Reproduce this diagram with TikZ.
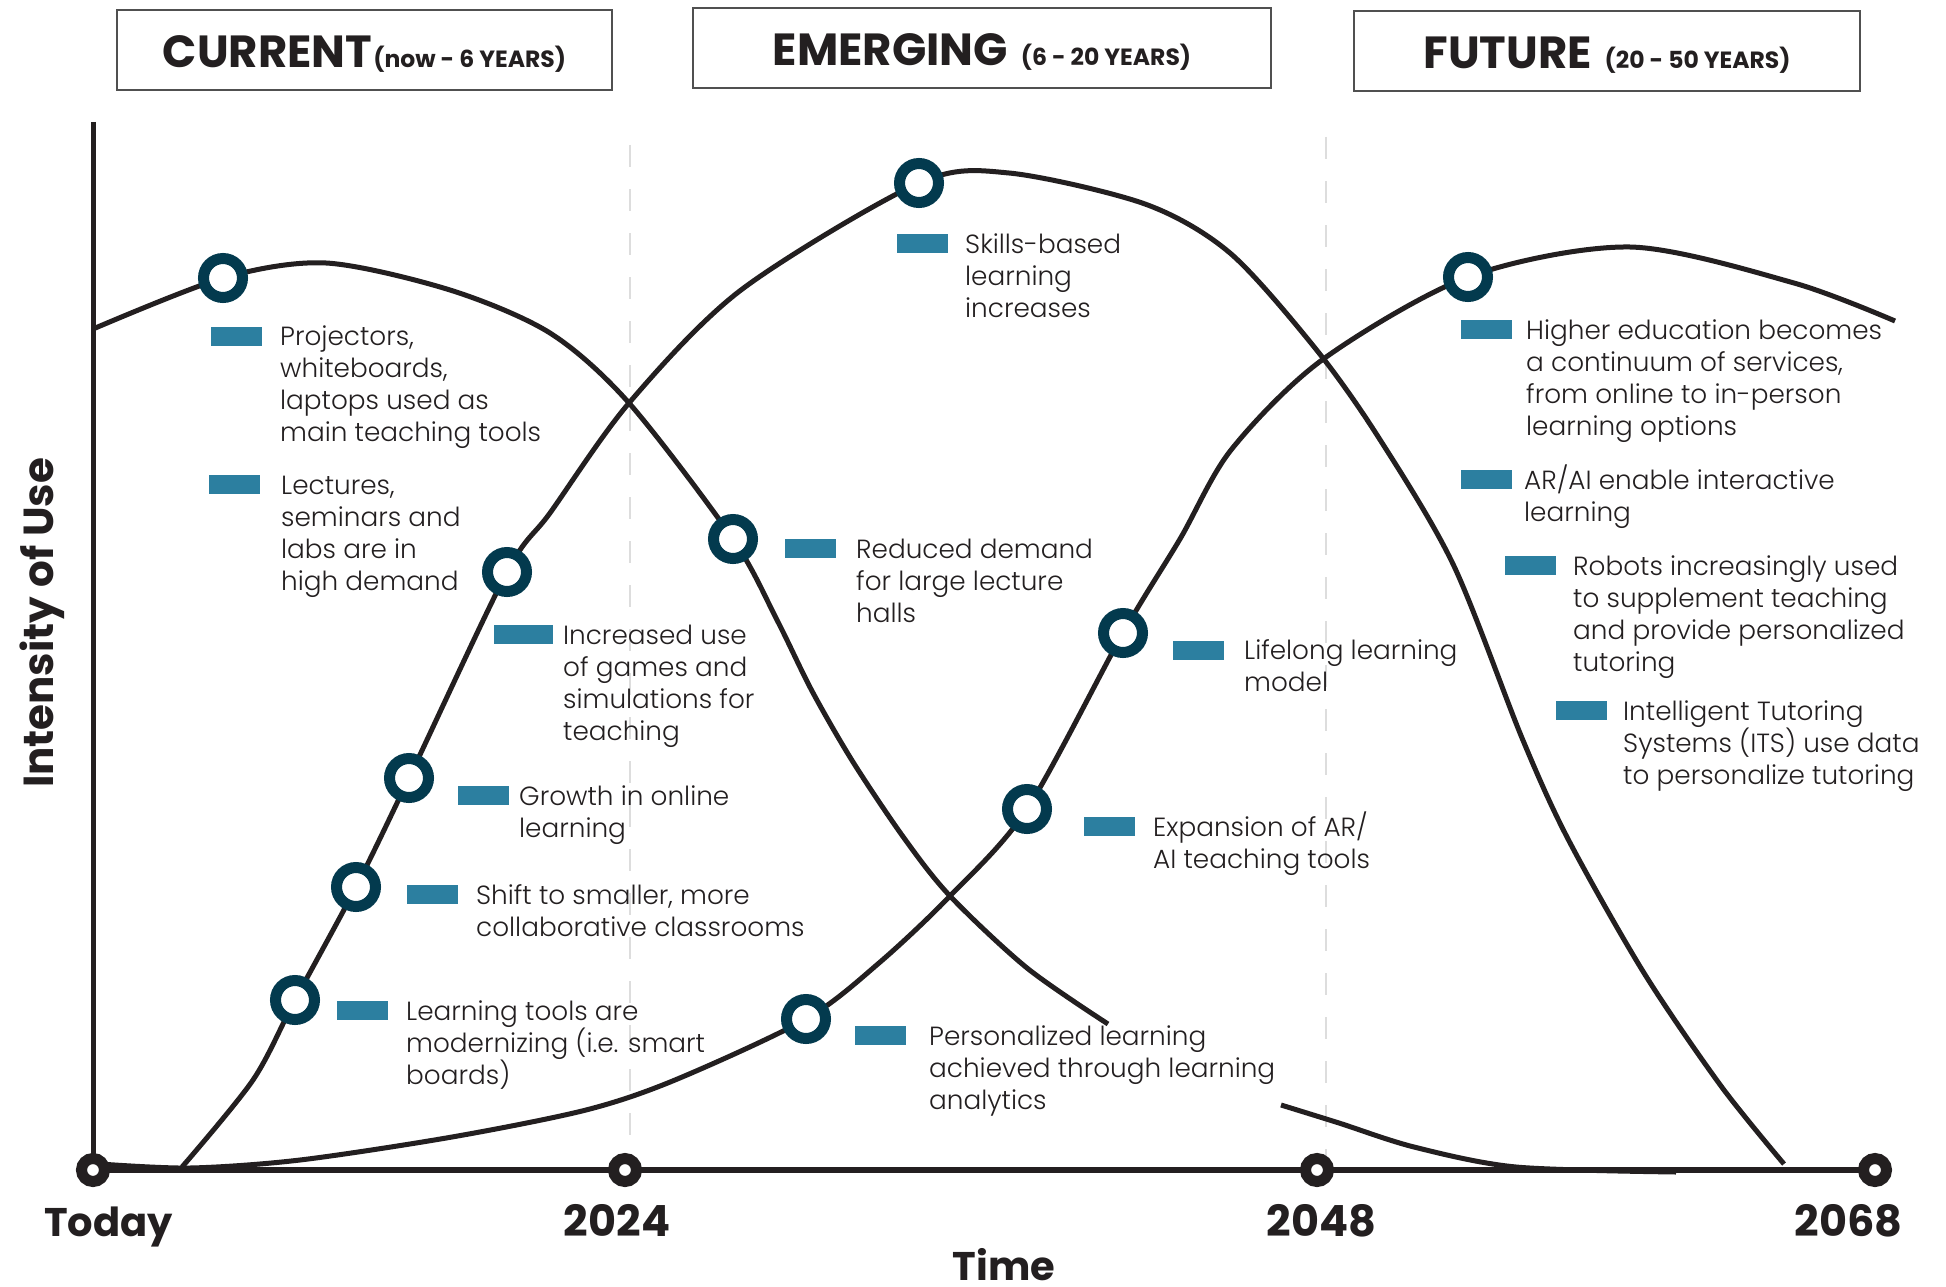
\documentclass[tikz,border=0pt]{standalone}
\usepackage{fontspec}
\IfFontExistsTF{Poppins Light}{\newfontfamily\bodyfont{Poppins Light}}{\newfontfamily\bodyfont{Poppins}}
\newfontfamily\headfont{Poppins}
\definecolor{ink}{HTML}{231F20}
\definecolor{ringblue}{HTML}{033A4E}
\definecolor{barblue}{HTML}{2C7FA0}
\definecolor{guidegrey}{HTML}{DDDDDD}
\definecolor{boxgrey}{HTML}{505050}
% big title word + small range, with a word gap between them
\newcommand{\phasetext}[3]{{\fontsize{45}{45}\selectfont #1}\hspace{#3}{\fontsize{23.5}{23.5}\selectfont #2}}
\begin{document}
\begin{tikzpicture}[x=1pt,y=-1pt,
  curve/.style={line width=5pt, draw=ink},
  axisline/.style={line width=6pt, draw=ink},
  guide/.style={line width=2pt, draw=guidegrey, dash pattern=on 22pt off 22pt},
  ring/.style={circle, draw=ringblue, line width=11pt, fill=white, minimum size=39pt, inner sep=0pt},
  tickmark/.style={circle, draw=ink, line width=11pt, fill=white, minimum size=23pt, inner sep=0pt},
  bar/.style={fill=barblue, draw=none, minimum width=51pt, minimum height=19pt, inner sep=0pt, anchor=west},
  % anchored at the baseline of the last line
  note/.style={anchor=base west, align=left, inner sep=0pt, text=ink, font=\bodyfont\fontsize{26.3}{32}\selectfont},
  phasebox/.style={draw=boxgrey, line width=1.5pt, inner sep=0pt},
  phasetitle/.style={anchor=base, inner sep=0pt, text=ink, font=\headfont\bfseries},
  axislabel/.style={anchor=base, inner sep=0pt, text=ink, font=\headfont\bfseries\fontsize{40}{40}\selectfont},
  yearlabel/.style={axislabel, font=\headfont\bfseries\fontsize{43}{43}\selectfont},
]
% canvas
\path[use as bounding box, fill=white] (0,0) rectangle (1946,1287);

% phase headers
\node[phasebox, minimum width=495pt, minimum height=80pt] (hcur) at (364.5,50) {};
\node[phasetitle] (tcur) at (364.5,68) {\phasetext{CURRENT}{(now - 6 YEARS)}{1pt}};
\node[phasebox, minimum width=578pt, minimum height=80pt] (hemg) at (982,48) {};
\node[phasetitle] (temg) at (982,66) {\phasetext{EMERGING}{(6 - 20 YEARS)}{13pt}};
\node[phasebox, minimum width=506pt, minimum height=80pt] (hfut) at (1607,51) {};
\node[phasetitle] (tfut) at (1607,69) {\phasetext{FUTURE}{(20 - 50 YEARS)}{13pt}};

% period guides
\draw[guide] (629.5,145) -- (629.5,1170);
\draw[guide] (1326,137) -- (1326,1170);

% axes
\coordinate (origin) at (93,1170);
\coordinate (ytop) at (93,122);
\coordinate (xend) at (1875,1170);
\draw[line width=5pt, draw=ink] (ytop) -- (origin);
\draw[axisline] (origin) -- (xend);

% current practices curve
\draw[curve] plot[smooth] coordinates {(93,329) (223,278) (326,263) (450,290) (550,333) (629,403) (733,539) (777,620) (812,691) (853,762) (904,838) (950,896) (1027,968) (1108,1024)};
\draw[curve] plot[smooth] coordinates {(1281,1105) (1339,1123) (1414,1147) (1516,1167) (1676,1172)};

% emerging practices curve
\draw[curve] plot[smooth] coordinates {(182,1167) (253,1080) (295,1000) (356,887) (409,778) (507,572) (550,513) (629,403) (741,290) (919,183) (1009,173) (1145,204) (1230,253) (1315,348) (1377,435) (1453,564) (1522,738) (1568,839) (1644,973) (1721,1086) (1784,1164)};

% future practices curve
\draw[curve] plot[smooth] coordinates {(100,1164) (190,1168) (300,1160) (452,1137) (586,1110) (675,1080) (806,1019) (879,963) (950,896) (1027,809) (1123,633) (1180,539) (1231,450) (1322,360) (1468,277) (1630,247) (1794,283) (1895,321)};

% time marks
\node[tickmark] (t0) at (origin) {};
\node[tickmark] (t1) at (625,1170) {};
\node[tickmark] (t2) at (1317,1170) {};
\node[tickmark] (t3) at (xend) {};

% milestones
\node[ring] (a1) at (223,278) {};
\node[ring] (a2) at (733,539) {};
\node[ring] (b1) at (295,1000) {};
\node[ring] (b2) at (356,887) {};
\node[ring] (b3) at (409,778) {};
\node[ring] (b4) at (507,572) {};
\node[ring] (b5) at (919,183) {};
\node[ring] (c1) at (806,1019) {};
\node[ring] (c2) at (1027,809) {};
\node[ring] (c3) at (1123,633) {};
\node[ring] (c4) at (1468,277) {};

% notes (bar beside the first line, text placed by its last line)
\node[bar] (k1) at (211,336) {};
\node[note] (n1) at (280,441.5) {Projectors,\\whiteboards,\\laptops used as\\main teaching tools};
\node[bar] (k2) at (209,484.5) {};
\node[note] (n2) at (281,590) {Lectures,\\seminars and\\labs are in\\high demand};
\node[bar, minimum width=59pt] (k3) at (494,634.5) {};
\node[note] (n3) at (563,740) {Increased use\\of games and\\simulations for\\teaching};
\node[bar] (k4) at (458,795.5) {};
\node[note] (n4) at (519,837) {Growth in online\\learning};
\node[bar] (k5) at (407,894.5) {};
\node[note] (n5) at (476,936) {Shift to smaller, more\\collaborative classrooms};
\node[bar] (k6) at (337,1010.5) {};
\node[note] (n6) at (406,1084) {Learning tools are\\modernizing (i.e. smart\\boards)};
\node[bar] (k7) at (897,243.5) {};
\node[note] (n7) at (965,317) {Skills-based\\learning\\increases};
\node[bar] (k8) at (785,548.5) {};
\node[note] (n8) at (856,622) {Reduced demand\\for large lecture\\halls};
\node[bar] (k9) at (855,1035.5) {};
\node[note] (n9) at (929,1109) {Personalized learning\\achieved through learning\\analytics};
\node[bar] (k10) at (1173,650) {};
\node[note] (n10) at (1244,691.5) {Lifelong learning\\model};
\node[bar] (k11) at (1084,826.5) {};
\node[note] (n11) at (1153,868) {Expansion of AR/\\AI teaching tools};
\node[bar] (k12) at (1461,329.5) {};
\node[note] (n12) at (1526,435) {Higher education becomes\\a continuum of services,\\from online to in-person\\learning options};
\node[bar] (k13) at (1461,479.5) {};
\node[note] (n13) at (1524,521) {AR/AI enable interactive\\learning};
\node[bar] (k14) at (1505,565.5) {};
\node[note] (n14) at (1573,671) {Robots increasingly used\\to supplement teaching\\and provide personalized\\tutoring};
\node[bar] (k15) at (1556,710.5) {};
\node[note] (n15) at (1623,784) {Intelligent Tutoring\\Systems (ITS) use data\\to personalize tutoring};

% axis labels
\node[axislabel] (l0) at (108.5,1236) {Today};
\node[yearlabel] (l1) at (617,1236) {2024};
\node[yearlabel] (l2) at (1321.5,1236) {2048};
\node[yearlabel] (l3) at (1848.5,1236) {2068};
\node[axislabel] (lt) at (1004,1280) {Time};
\node[axislabel, anchor=center, rotate=90, font=\headfont\bfseries\fontsize{42}{42}\selectfont] (ly) at (42,623) {Intensity of Use};
\end{tikzpicture}
\end{document}
